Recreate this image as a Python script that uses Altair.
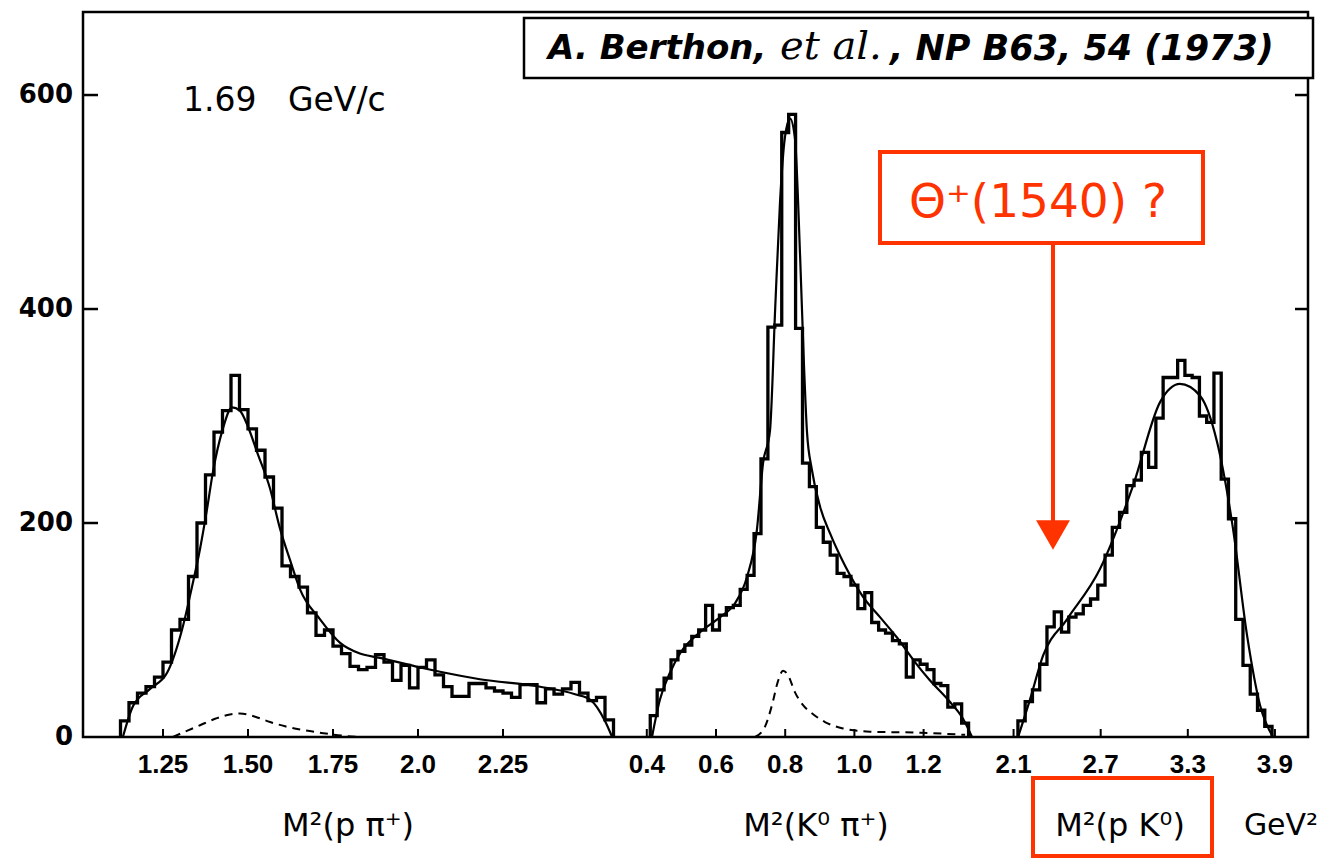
import altair as alt
import pandas as pd

# ---------------- values ----------------
# Histogram 1: M^2(p pi+)  (GeV^2)
p1_bin_start = 1.125
p1_bin_width = 0.025
p1_counts = [15, 32, 41, 47, 56, 70, 100, 110, 150, 200, 245, 285, 305, 338, 306,
             288, 268, 243, 214, 160, 150, 140, 116, 95, 100, 85, 78, 66, 63, 65,
             77, 70, 53, 67, 46, 65, 72, 58, 47, 38, 38, 50, 50, 46, 43, 41, 37,
             49, 49, 32, 45, 40, 45, 51, 41, 34, 37, 16]

# Histogram 2: M^2(K0 pi+)
p2_bin_start = 0.41
p2_bin_width = 0.02
p2_counts = [20, 44, 55, 72, 80, 86, 94, 100, 123, 100, 114, 121, 123, 138, 151,
             190, 260, 383, 385, 565, 582, 382, 256, 234, 196, 182, 170, 153, 150,
             142, 120, 135, 107, 100, 97, 90, 87, 56, 72, 68, 63, 50, 48, 28, 31, 13]

# Histogram 3: M^2(p K0)
p3_bin_start = 2.13
p3_bin_width = 0.05
p3_counts = [15, 33, 44, 68, 103, 117, 98, 112, 115, 123, 129, 142, 170, 196, 210,
             235, 240, 266, 252, 298, 336, 336, 352, 338, 336, 300, 294, 340, 241,
             204, 110, 67, 40, 25, 10]

# Fitted curves (solid) and background curves (dashed)
p1_fit_m2 = [1.132, 1.162, 1.212, 1.262, 1.309, 1.335, 1.359, 1.379, 1.397, 1.426,
             1.453, 1.476, 1.500, 1.527, 1.565, 1.594, 1.624, 1.653, 1.712, 1.771,
             1.829, 1.888, 2.006, 2.065, 2.182, 2.359, 2.462, 2.506, 2.550, 2.571]
p1_fit_n = [0, 29, 45, 60, 104, 140, 176, 212, 248, 288, 308, 305, 290, 266, 232,
            195, 165, 138, 110, 88, 78, 74, 65, 61, 54, 47, 40, 35, 15, 0]
p1_bg_m2 = [1.279, 1.315, 1.359, 1.403, 1.447, 1.476, 1.521, 1.565, 1.609, 1.653,
            1.712, 1.785, 1.829]
p1_bg_n = [0, 5, 11, 17, 21, 22, 19, 14, 10, 7, 4, 1, 0]

p2_fit_m2 = [0.415, 0.438, 0.467, 0.496, 0.554, 0.612, 0.655, 0.690, 0.718, 0.736,
             0.756, 0.771, 0.785, 0.799, 0.814, 0.828, 0.843, 0.854, 0.863, 0.877,
             0.901, 0.930, 0.973, 1.025, 1.074, 1.123, 1.175, 1.218, 1.270, 1.314,
             1.340]
p2_fit_n = [0, 35, 60, 78, 98, 112, 125, 150, 193, 256, 286, 400, 500, 560, 578,
            560, 450, 350, 285, 250, 215, 190, 160, 131, 112, 93, 70, 53, 35, 17, 0]
p2_bg_m2 = [0.713, 0.742, 0.762, 0.779, 0.794, 0.808, 0.828, 0.851, 0.878, 0.915,
            0.967, 1.045, 1.190, 1.320]
p2_bg_n = [0, 10, 30, 52, 62, 58, 42, 30, 22, 14, 8, 5, 4, 2]

p3_fit_m2 = [2.131, 2.213, 2.303, 2.468, 2.695, 2.923, 3.109, 3.246, 3.384, 3.501,
             3.611, 3.708, 3.797, 3.887]
p3_fit_n = [0, 35, 76, 110, 157, 235, 313, 330, 319, 276, 195, 95, 30, 0]

# Axis tick labels
p1_tick_values = [1.25, 1.50, 1.75, 2.0, 2.25]
p1_tick_labels = ["1.25", "1.50", "1.75", "2.0", "2.25"]
p2_tick_values = [0.4, 0.6, 0.8, 1.0, 1.2]
p2_tick_labels = ["0.4", "0.6", "0.8", "1.0", "1.2"]
p3_tick_values = [2.1, 2.7, 3.3, 3.9]
p3_tick_labels = ["2.1", "2.7", "3.3", "3.9"]
y_tick_values = [0, 200, 400, 600]
y_tick_labels = ["0", "200", "400", "600"]
y_inner_ticks = [200, 400, 600]

theta_mass_gev = 1.540

# ---------------- layout ----------------
LEFT, TOP, W, H = 83, 12, 1225, 725
# each sub-histogram has its own linear x axis placed along the common frame
PANEL_AXIS = {"p1": (-262.0, 340.0), "p2": (508.4, 346.0), "p3": (708.65, 145.2)}
XS = alt.Scale(domain=[LEFT, LEFT + W], nice=False, zero=False)
YS = alt.Scale(domain=[0, 677.6], nice=False, zero=False)
RED = "#ff3300"
NARROW = "Liberation Sans Narrow, Liberation Sans, sans-serif"
SANS = "DejaVu Sans"


def to_pos(panel, m2):
    a, b = PANEL_AXIS[panel]
    return a + b * m2


hist_rows = []
for panel, start, width, counts in [("p1", p1_bin_start, p1_bin_width, p1_counts),
                                    ("p2", p2_bin_start, p2_bin_width, p2_counts),
                                    ("p3", p3_bin_start, p3_bin_width, p3_counts)]:
    edges = [start + i * width for i in range(len(counts) + 1)]
    pts = [(edges[0], 0)]
    for i, c in enumerate(counts):
        pts += [(edges[i], c), (edges[i + 1], c)]
    pts.append((edges[-1], 0))
    for k, (m, n) in enumerate(pts):
        hist_rows.append({"panel": panel, "k": k, "pos": to_pos(panel, m), "n": n})
hist_df = pd.DataFrame(hist_rows)


def curve_df(items):
    rows = []
    for panel, xs, ys in items:
        for k, (m, n) in enumerate(zip(xs, ys)):
            rows.append({"panel": panel, "k": k, "pos": to_pos(panel, m), "n": n})
    return pd.DataFrame(rows)


fit_df = curve_df([("p1", p1_fit_m2, p1_fit_n), ("p2", p2_fit_m2, p2_fit_n),
                   ("p3", p3_fit_m2, p3_fit_n)])
bg_df = curve_df([("p1", p1_bg_m2, p1_bg_n), ("p2", p2_bg_m2, p2_bg_n)])

xt_rows = []
for panel, vals, labs in [("p1", p1_tick_values, p1_tick_labels),
                          ("p2", p2_tick_values, p2_tick_labels),
                          ("p3", p3_tick_values, p3_tick_labels)]:
    for v, l in zip(vals, labs):
        xt_rows.append({"pos": to_pos(panel, v), "lab": l})
xtick_df = pd.DataFrame(xt_rows)
ylab_df = pd.DataFrame({"v": y_tick_values, "lab": y_tick_labels})
ytick_df = pd.DataFrame({"v": y_inner_ticks})

X = alt.X("pos:Q", scale=XS, axis=None)
Y = alt.Y("n:Q", scale=YS, axis=None)

hist = alt.Chart(hist_df).mark_line(color="black", strokeWidth=3.3, strokeJoin="miter").encode(
    x=X, y=Y, detail="panel:N", order="k:Q")

fit = alt.Chart(fit_df).mark_line(color="black", strokeWidth=2.2, interpolate="monotone").encode(
    x=X, y=Y, detail="panel:N", order="k:Q")

bg = alt.Chart(bg_df).mark_line(color="black", strokeWidth=2, strokeDash=[8, 6],
                                interpolate="monotone").encode(
    x=X, y=Y, detail="panel:N", order="k:Q")

xticks = alt.Chart(xtick_df).mark_rule(color="black", strokeWidth=2).encode(
    x=X, y=alt.value(H), y2=alt.value(H - 8))
xlabels = alt.Chart(xtick_df).mark_text(font=NARROW, fontSize=26, fontWeight="bold",
                                        color="black", baseline="middle").encode(
    x=X, y=alt.value(765 - TOP), text="lab:N")

yticks_l = alt.Chart(ytick_df).mark_rule(color="black", strokeWidth=2.5).encode(
    y=alt.Y("v:Q", scale=YS, axis=None), x=alt.value(0), x2=alt.value(15))
yticks_r = alt.Chart(ytick_df).mark_rule(color="black", strokeWidth=2.5).encode(
    y=alt.Y("v:Q", scale=YS, axis=None), x=alt.value(W - 13), x2=alt.value(W))
ylabels = alt.Chart(ylab_df).mark_text(font=SANS, fontSize=26, fontWeight="bold",
                                       color="black", align="right", baseline="middle").encode(
    y=alt.Y("v:Q", scale=YS, axis=None), x=alt.value(73 - LEFT), text="lab:N")

one = pd.DataFrame({"a": [0]})


def text(t, x, y, **kw):
    return alt.Chart(pd.DataFrame({"t": [t]})).mark_text(**kw).encode(
        x=alt.value(x - LEFT), y=alt.value(y - TOP), text="t:N")


def box(x1, x2, y1, y2, **kw):
    return alt.Chart(one).mark_rect(**kw).encode(
        x=alt.value(x1 - LEFT), x2=alt.value(x2 - LEFT),
        y=alt.value(y1 - TOP), y2=alt.value(y2 - TOP))


# annotation: Theta+(1540)
theta_df = pd.DataFrame({"pos": [to_pos("p3", theta_mass_gev ** 2)]})
arrow_line = alt.Chart(theta_df).mark_rule(color=RED, strokeWidth=4).encode(
    x=X, y=alt.value(243 - TOP), y2=alt.value(522 - TOP))
arrow_head = alt.Chart(theta_df).mark_point(shape="triangle-down", filled=True, size=1150,
                                            color=RED, opacity=1, strokeWidth=0).encode(
    x=X, y=alt.value(535 - TOP))

NB = "\u00a0"
layers = [
    hist, fit, bg, xticks, xlabels, yticks_l, yticks_r, ylabels,
    text("1.69" + NB * 3 + "GeV/c", 183, 101, font=SANS, fontSize=33, align="left",
         baseline="middle"),
    box(524, 1313, 18, 78, fill="white", stroke="black", strokeWidth=2.5),
    text("A. Berthon,", 548, 49, font=SANS, fontSize=34, fontWeight="bold",
         fontStyle="italic", align="left", baseline="middle"),
    text("et al.", 780, 47, font="DejaVu Serif", fontSize=40, fontStyle="italic",
         align="left", baseline="middle"),
    text(", NP B63, 54 (1973)", 890, 49, font=SANS, fontSize=35, fontWeight="bold",
         fontStyle="italic", align="left", baseline="middle"),
    box(880, 1203, 152, 243, fillOpacity=0, stroke=RED, strokeWidth=4),
    text("Θ⁺(1540) ?", 1038, 203, font=SANS, fontSize=47, color=RED, align="center",
         baseline="middle"),
    arrow_line, arrow_head,
    text("M²(p π⁺)", 348, 826, font=SANS, fontSize=32, align="center", baseline="middle"),
    text("M²(K⁰ π⁺)", 816, 826, font=SANS, fontSize=32, align="center", baseline="middle"),
    text("M²(p K⁰)", 1120, 826, font=SANS, fontSize=32, align="center", baseline="middle"),
    text("GeV²", 1281, 826, font=SANS, fontSize=30, align="center", baseline="middle"),
    box(1033, 1212, 778, 856, fillOpacity=0, stroke=RED, strokeWidth=4),
]

chart = alt.layer(*layers).properties(
    width=W, height=H,
    padding={"left": LEFT, "top": TOP, "right": 1319 - LEFT - W, "bottom": 858 - TOP - H},
    autosize=alt.AutoSizeParams(type="none"),
).configure(background="white").configure_view(stroke="black", strokeWidth=2.5)

chart.save("out.html", embed_options={"renderer": "svg", "actions": False})
